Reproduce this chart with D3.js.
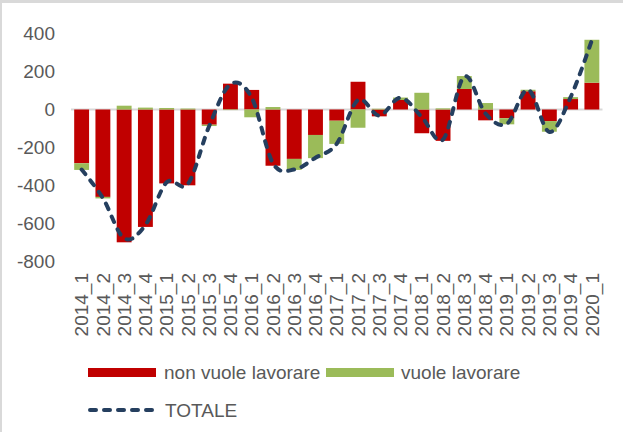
<!DOCTYPE html>
<html>
<head>
<meta charset="utf-8">
<script src="https://cdn.jsdelivr.net/npm/d3@7"></script>
<style>
  body { margin: 0; background: #fff; }
  text { font-family: "Liberation Sans", Arial, sans-serif; fill: #595959; }
</style>
</head>
<body>
<svg id="chart"></svg>
<script>
const categories = ["2014_1","2014_2","2014_3","2014_4","2015_1","2015_2","2015_3","2015_4",
  "2016_1","2016_2","2016_3","2016_4","2017_1","2017_2","2017_3","2017_4",
  "2018_1","2018_2","2018_3","2018_4","2019_1","2019_2","2019_3","2019_4","2020_1"];
const nonVuole = [-283, -460, -699, -618, -389, -399, -80, 136, 103, -296, -260, -134, -59,
  146, -36, 50, -125, -165, 108, -57, -46, 96, -61, 55, 141];
const vuole = [-35, -8, 20, 10, 8, 5, -7, -3, -41, 13, -58, -122, -122,
  -96, 4, 13, 88, 6, 68, 34, -32, 8, -56, 10, 226];
const totale = [-316, -466, -678, -608, -383, -392, -87, 133, 62, -283, -316, -254, -180,
  50, -32, 62, -40, -158, 174, -22, -76, 104, -118, 65, 365];
const yTicks = [400, 200, 0, -200, -400, -600, -800];

class Stackedchart {
    constructor(svg, width = 623, height = 432) {
        this.svg = d3.select(svg);
        this.width = width;
        this.height = height;
        this.colors = { nonVuole: "#C00000", vuole: "#9BBB59", line: "#253F5F" };
    }

    initialize() {
        this.svg.attr("width", this.width).attr("height", this.height);
        // frame of the cropped chart
        this.svg.append("rect").attr("width", this.width).attr("height", this.height).attr("fill", "#fff");
        this.svg.append("rect").attr("width", this.width).attr("height", 3).attr("fill", "#d9d9d9");
        this.svg.append("rect").attr("width", 2).attr("height", this.height).attr("fill", "#d9d9d9");

        this.x = d3.scaleBand().domain(categories).range([71, 602.5])
            .paddingInner(0.3).paddingOuter(0.15);
        this.y = d3.scaleLinear().domain([-800, 400]).range([261.5, 33.5]);
    }

    update() {
        const x = this.x, y = this.y;
        const rows = categories.map((c, i) => ({ cat: c, nonVuole: nonVuole[i], vuole: vuole[i] }));

        // y tick labels
        this.svg.append("g").selectAll("text")
            .data(yTicks).join("text")
            .attr("x", 55).attr("y", d => y(d)).attr("dy", "0.35em")
            .attr("text-anchor", "end").attr("font-size", 19)
            .text(d => d);

        // zero line
        this.svg.append("line")
            .attr("x1", x.range()[0]).attr("x2", x.range()[1])
            .attr("y1", y(0)).attr("y2", y(0))
            .attr("stroke", "#d9d9d9").attr("stroke-width", 2);

        // stacked bars, positive and negative parts stack apart
        const stacked = d3.stack().keys(["nonVuole", "vuole"])
            .offset(d3.stackOffsetDiverging)(rows);
        this.svg.append("g").selectAll("g")
            .data(stacked).join("g")
            .attr("fill", d => this.colors[d.key])
            .selectAll("rect")
            .data(d => d).join("rect")
            .attr("x", d => x(d.data.cat))
            .attr("y", d => y(Math.max(d[0], d[1])))
            .attr("height", d => Math.abs(y(d[0]) - y(d[1])))
            .attr("width", x.bandwidth());

        // TOTALE line
        const line = d3.line()
            .x((d, i) => x(categories[i]) + x.bandwidth() / 2)
            .y(d => y(d))
            .curve(d3.curveCardinal.tension(0));
        this.svg.append("path")
            .datum(totale)
            .attr("d", line)
            .attr("fill", "none")
            .attr("stroke", this.colors.line)
            .attr("stroke-width", 4)
            .attr("stroke-linecap", "round")
            .attr("stroke-dasharray", "6 8");

        // x labels
        this.svg.append("g").selectAll("text")
            .data(categories).join("text")
            .attr("transform", d => `translate(${x(d) + x.bandwidth() / 2}, 273) rotate(-90)`)
            .attr("dy", "0.35em")
            .attr("text-anchor", "end").attr("font-size", 19)
            .text(d => d);

        // legend
        const lg = this.svg.append("g").attr("font-size", 19);
        lg.append("rect").attr("x", 88).attr("y", 368).attr("width", 68).attr("height", 9).attr("fill", this.colors.nonVuole);
        lg.append("text").attr("x", 164).attr("y", 372.5).attr("dy", "0.35em").text("non vuole lavorare");
        lg.append("rect").attr("x", 326).attr("y", 368).attr("width", 68).attr("height", 9).attr("fill", this.colors.vuole);
        lg.append("text").attr("x", 401).attr("y", 372.5).attr("dy", "0.35em").text("vuole lavorare");
        lg.append("line").attr("x1", 90).attr("x2", 156).attr("y1", 410).attr("y2", 410)
            .attr("stroke", this.colors.line).attr("stroke-width", 4)
            .attr("stroke-linecap", "round").attr("stroke-dasharray", "6 8");
        lg.append("text").attr("x", 165).attr("y", 410).attr("dy", "0.35em").text("TOTALE");
    }
}

const chart = new Stackedchart("#chart");
chart.initialize();
chart.update();
</script>
</body>
</html>
